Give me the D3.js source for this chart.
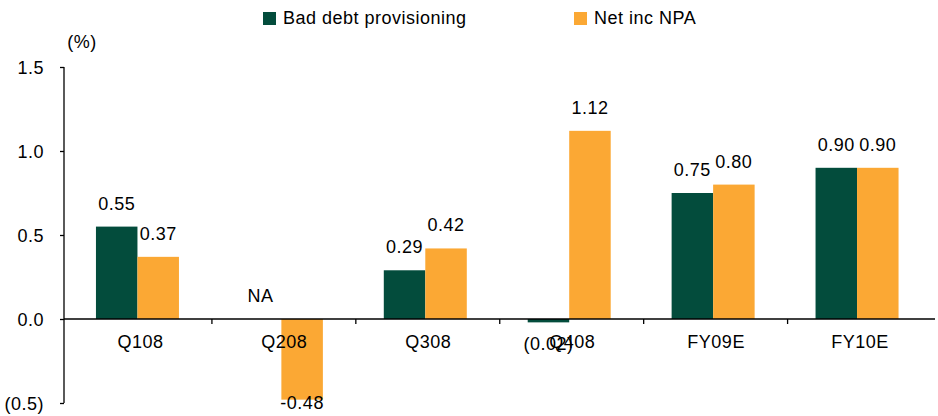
<!DOCTYPE html>
<html>
<head>
<meta charset="utf-8">
<script src="https://cdn.jsdelivr.net/npm/d3@7"></script>
<style>
  html, body { margin: 0; padding: 0; background: #fff; }
  svg { display: block; font-family: "Liberation Sans", Arial, sans-serif; }
</style>
</head>
<body>
<svg id="chart" width="938" height="416"></svg>
<script>
const categories = ["Q108", "Q208", "Q308", "Q408", "FY09E", "FY10E"];
const seriesNames = ["Bad debt provisioning", "Net inc NPA"];
const badDebt = [0.55, null, 0.29, -0.02, 0.75, 0.90];
const netNpa = [0.37, -0.48, 0.42, 1.12, 0.80, 0.90];
const badDebtLabels = ["0.55", "NA", "0.29", "(0.02)", "0.75", "0.90"];
const netNpaLabels = ["0.37", "-0.48", "0.42", "1.12", "0.80", "0.90"];
const yTicks = [-0.5, 0.0, 0.5, 1.0, 1.5];
const colors = ["#034C3C", "#FBA834"];

const svg = d3.select("#chart");
const fontSize = 18;
const ls = "0.5px";

const y = d3.scaleLinear().domain([-0.5, 1.5]).range([403, 67]);
const x = d3.scaleBand().domain(categories).range([65.5, 929]).paddingInner(0).paddingOuter(0);
const groupW = 83;
const x1 = d3.scaleBand().domain(seriesNames).range([0, groupW]);
const groupOffset = (x.bandwidth() - groupW) / 2;

const series = [
  { name: seriesNames[0], values: badDebt, labels: badDebtLabels, color: colors[0] },
  { name: seriesNames[1], values: netNpa, labels: netNpaLabels, color: colors[1] }
];

function styleText(sel) {
  return sel.attr("font-size", fontSize).attr("fill", "#000")
    .attr("font-family", "Liberation Sans, Arial, sans-serif")
    .style("letter-spacing", ls);
}

// Bars
series.forEach(s => {
  svg.append("g").selectAll("rect")
    .data(categories.map((c, i) => ({ c, v: s.values[i] })).filter(d => d.v !== null))
    .join("rect")
    .attr("x", d => x(d.c) + groupOffset + x1(s.name))
    .attr("width", x1.bandwidth())
    .attr("y", d => y(Math.max(0, d.v)))
    .attr("height", d => Math.abs(y(d.v) - y(0)))
    .attr("fill", s.color);
});

// Y axis
const yAxisX = 64;
const yAxis = d3.axisLeft(y).tickValues(yTicks).tickSize(4).tickPadding(16)
  .tickFormat(v => v < 0 ? "(" + d3.format(".1f")(-v) + ")" : d3.format(".1f")(v));
const gy = svg.append("g").attr("transform", `translate(${yAxisX},0)`).call(yAxis);
gy.select(".domain").remove();
gy.append("line").attr("x1", 0).attr("x2", 0).attr("y1", y(1.5)).attr("y2", y(-0.5))
  .attr("stroke", "#000").attr("stroke-width", 1.3);
gy.selectAll(".tick line").attr("stroke", "#000").attr("stroke-width", 1.3);
styleText(gy.selectAll(".tick text")).attr("dy", "0.36em");

// X axis line at zero
const y0 = y(0);
svg.append("line").attr("x1", yAxisX).attr("x2", 935).attr("y1", y0).attr("y2", y0)
  .attr("stroke", "#000").attr("stroke-width", 1.3);
// ticks between categories
svg.append("g").selectAll("line")
  .data(categories.slice(1))
  .join("line")
  .attr("x1", d => x(d) + 2.5).attr("x2", d => x(d) + 2.5)
  .attr("y1", y0).attr("y2", y0 + 5)
  .attr("stroke", "#000").attr("stroke-width", 1.3);
// category labels
styleText(svg.append("g").selectAll("text")
  .data(categories)
  .join("text")
  .attr("x", d => x(d) + x.bandwidth() / 2 + 3)
  .attr("y", 348)
  .attr("text-anchor", "middle"))
  .text(d => d);

// Data labels
series.forEach(s => {
  styleText(svg.append("g").selectAll("text")
    .data(categories.map((c, i) => ({ c, v: s.values[i], t: s.labels[i] })))
    .join("text")
    .attr("x", d => x(d.c) + groupOffset + x1(s.name) + x1.bandwidth() / 2)
    .attr("y", d => {
      const v = d.v === null ? 0 : d.v;
      if (v >= 0) return y(v) - 17;
      return Math.min(y(v) + 28, 409);
    })
    .attr("text-anchor", "middle"))
    .text(d => d.t);
});

// Unit label
styleText(svg.append("text").attr("x", 82).attr("y", 48).attr("text-anchor", "middle")).text("(%)");

// Legend
const legendItems = [
  { name: seriesNames[0], color: colors[0], x: 263 },
  { name: seriesNames[1], color: colors[1], x: 574 }
];
const lg = svg.append("g");
legendItems.forEach(li => {
  lg.append("rect").attr("x", li.x).attr("y", 12).attr("width", 13).attr("height", 13).attr("fill", li.color);
  styleText(lg.append("text").attr("x", li.x + 20).attr("y", 24)).text(li.name);
});
</script>
</body>
</html>
